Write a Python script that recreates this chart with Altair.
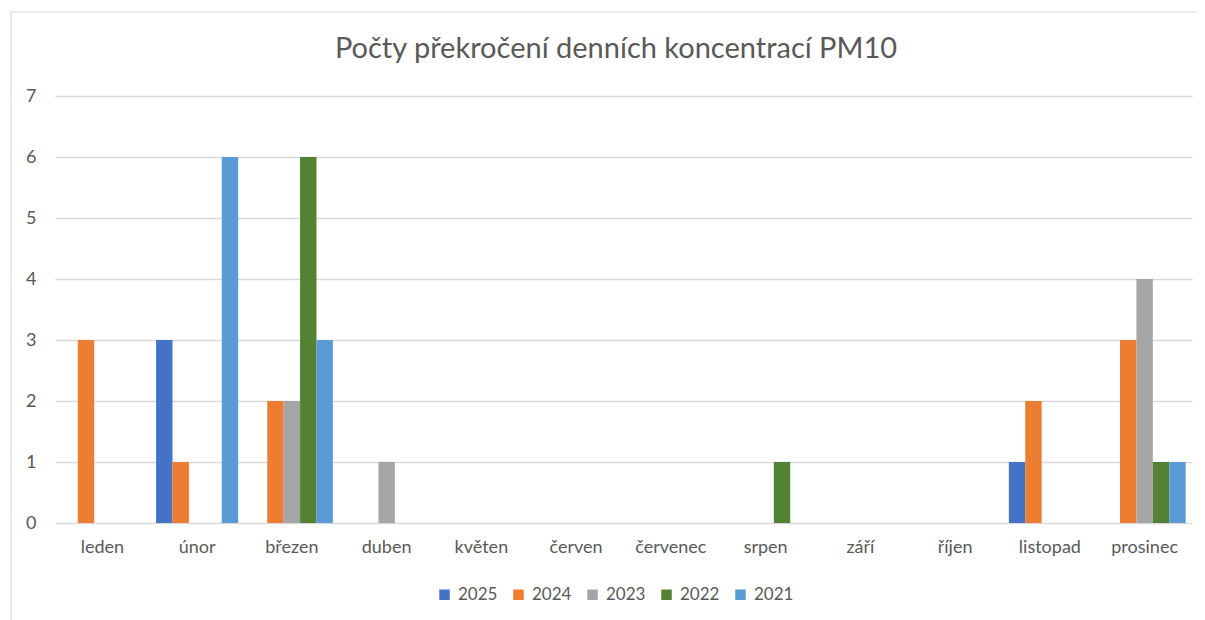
import altair as alt
import pandas as pd

title_text = "Počty překročení denních koncentrací PM10"
months = ["leden", "únor", "březen", "duben", "květen", "červen",
          "červenec", "srpen", "září", "říjen", "listopad", "prosinec"]
years = ["2025", "2024", "2023", "2022", "2021"]
v2025 = [0, 3, 0, 0, 0, 0, 0, 0, 0, 0, 1, 0]
v2024 = [3, 1, 2, 0, 0, 0, 0, 0, 0, 0, 2, 3]
v2023 = [0, 0, 2, 1, 0, 0, 0, 0, 0, 0, 0, 4]
v2022 = [0, 0, 6, 0, 0, 0, 0, 1, 0, 0, 0, 1]
v2021 = [0, 6, 3, 0, 0, 0, 0, 0, 0, 0, 0, 1]
colors = ["#4472C4", "#ED7D31", "#A5A5A5", "#548235", "#5B9BD5"]

series = dict(zip(years, [v2025, v2024, v2023, v2022, v2021]))
rows = []
for y in years:
    for m, v in zip(months, series[y]):
        rows.append({"month": m, "year": y, "value": v})
df = pd.DataFrame(rows)

FONT = "Lato"
GREY = "#595959"

bars = alt.Chart(df).mark_bar().encode(
    x=alt.X("month:N", sort=months, title=None,
            scale=alt.Scale(paddingInner=0.134, paddingOuter=0.067),
            axis=alt.Axis(labelAngle=0, domain=False, ticks=False, grid=False,
                          labelFontSize=18, labelColor=GREY, labelFont=FONT,
                          labelPadding=15)),
    xOffset=alt.XOffset("year:N", sort=years, scale=alt.Scale(paddingInner=0, paddingOuter=0)),
    y=alt.Y("value:Q", title=None,
            scale=alt.Scale(domain=[0, 7], nice=False),
            axis=alt.Axis(values=[0, 1, 2, 3, 4, 5, 6, 7], domain=False, ticks=False,
                          gridColor="#D9D9D9", gridWidth=1.5,
                          labelFontSize=18, labelColor=GREY, labelFont=FONT,
                          labelPadding=19)),
    color=alt.Color("year:N", sort=years, title=None,
                    scale=alt.Scale(domain=years, range=colors),
                    legend=alt.Legend(orient="none", direction="horizontal",
                                      legendX=381, legendY=490,
                                      symbolType="square", symbolSize=110,
                                      symbolStrokeWidth=0,
                                      labelFontSize=17, labelColor=GREY, labelFont=FONT,
                                      labelOffset=5, columnPadding=12)),
)

frame = alt.Chart(pd.DataFrame({"k": [0]})).mark_rect(
    fill=None, stroke="#D9D9D9", strokeWidth=1.2
).encode(
    x=alt.value(-44), x2=alt.value(1170),
    y=alt.value(-84), y2=alt.value(540),
)

title = alt.Chart(pd.DataFrame({"t": [title_text]})).mark_text(
    font=FONT, fontSize=29, color=GREY, align="center", baseline="middle"
).encode(
    text="t:N", x=alt.value(561), y=alt.value(-47),
)

chart = alt.layer(frame, bars, title).properties(
    width=1137, height=427,
    padding={"left": 47, "top": 88, "right": 5, "bottom": 100},
    autosize=alt.AutoSizeParams(type="none"),
).configure_view(stroke=None).configure_legend(padding=0)

chart.save("out.html", embed_options={"renderer": "svg", "actions": False})
